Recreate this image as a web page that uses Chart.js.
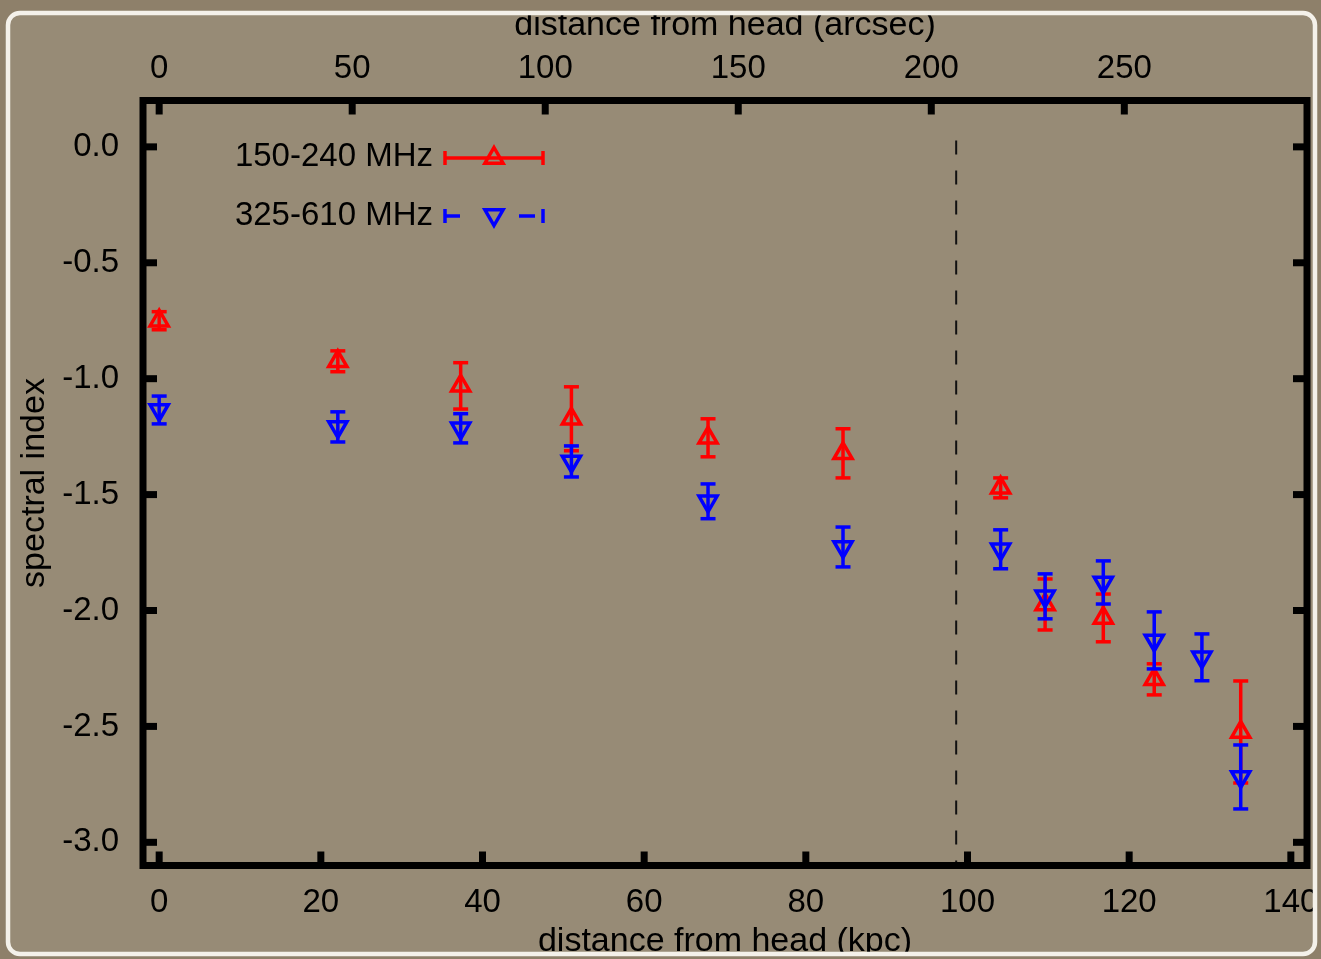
<!DOCTYPE html>
<html>
<head>
<meta charset="utf-8">
<title>spectral index</title>
<script src="https://cdn.jsdelivr.net/npm/chart.js@4.4.1/dist/chart.umd.min.js"></script>
<style>
  html, body { margin: 0; padding: 0; background: #8f826c; }
</style>
</head>
<body>
<canvas id="myChart" width="1321" height="959"></canvas>
<script>
// values
const seriesNames = ['150-240 MHz', '325-610 MHz'];

const dist150 = [0, 22.1, 37.3, 51.0, 67.9, 84.6, 104.1, 109.6, 116.8, 123.1, 133.8];
const index150 = [-0.75, -0.925, -1.031, -1.173, -1.255, -1.322, -1.471, -1.974, -2.032, -2.297, -2.524];
const err150 = [0.039, 0.045, 0.10, 0.138, 0.082, 0.106, 0.043, 0.11, 0.103, 0.067, 0.22];

const dist325 = [0, 22.1, 37.3, 51.0, 67.9, 84.6, 104.1, 109.6, 116.8, 123.1, 129.0, 133.8];
const index325 = [-1.135, -1.208, -1.214, -1.357, -1.529, -1.726, -1.736, -1.939, -1.879, -2.129, -2.202, -2.718];
const err325 = [0.06, 0.065, 0.063, 0.067, 0.075, 0.086, 0.084, 0.097, 0.093, 0.123, 0.101, 0.138];

const kpcTicks = [0, 20, 40, 60, 80, 100, 120, 140];
const arcsecTicks = [0, 50, 100, 150, 200, 250];
const indexTicks = [0.0, -0.5, -1.0, -1.5, -2.0, -2.5, -3.0];

const kpcPerArcsec = 0.4776;
const boundaryKpc = 98.6;
const kpcMin = -2, kpcMax = 142;

const paperColor = '#978b76';
const outerColor = '#8e806a';
const fontFamily = '"Liberation Sans", Arial, Helvetica, sans-serif';

Chart.defaults.font.family = fontFamily;
Chart.defaults.color = '#000';

function line(ctx, x1, y1, x2, y2) {
    ctx.beginPath();
    ctx.moveTo(x1, y1);
    ctx.lineTo(x2, y2);
    ctx.stroke();
}

function triangle(ctx, x, y, r, down) {
    let s = down ? -1 : 1;
    ctx.beginPath();
    ctx.moveTo(x, y - s * r);
    ctx.lineTo(x + r * 0.866, y + s * r / 2);
    ctx.lineTo(x - r * 0.866, y + s * r / 2);
    ctx.closePath();
    ctx.stroke();
}

// paper background + dashed boundary line
const paperPlugin = {
    id: 'paper',
    beforeDraw(chart) {
        let ctx = chart.ctx;
        ctx.save();
        ctx.fillStyle = paperColor;
        ctx.fillRect(0, 0, chart.width, chart.height);
        ctx.restore();
    },
    beforeDatasetsDraw(chart) {
        let ctx = chart.ctx;
        let area = chart.chartArea;
        let px = chart.scales.x.getPixelForValue(boundaryKpc);
        ctx.save();
        ctx.strokeStyle = '#111';
        ctx.lineWidth = 2;
        ctx.setLineDash([14, 16]);
        line(ctx, px, area.top + 40, px, area.bottom);
        ctx.restore();
    }
};

// error bars, drawn before the markers of each dataset
const errorBarPlugin = {
    id: 'errorBars',
    beforeDatasetDraw(chart, args) {
        let ds = chart.data.datasets[args.index];
        let errs = ds.errors;
        let xs = chart.scales.x;
        let ys = chart.scales.y;
        let ctx = chart.ctx;
        ctx.save();
        ctx.strokeStyle = ds.pointBorderColor;
        ctx.lineWidth = 3.5;
        ds.data.forEach((p, i) => {
            let px = xs.getPixelForValue(p.x);
            let yTop = ys.getPixelForValue(p.y + errs[i]);
            let yBot = ys.getPixelForValue(p.y - errs[i]);
            line(ctx, px, yTop, px, yBot);
            line(ctx, px - 7.5, yTop, px + 7.5, yTop);
            line(ctx, px - 7.5, yBot, px + 7.5, yBot);
        });
        ctx.restore();
    }
};

// frame with inward ticks, legend and torn paper edge
const framePlugin = {
    id: 'frame',
    afterDraw(chart) {
        let ctx = chart.ctx;
        let a = chart.chartArea;
        ctx.save();
        ctx.strokeStyle = '#000';
        ctx.lineWidth = 7;
        ctx.lineJoin = 'miter';
        ctx.strokeRect(a.left, a.top, a.right - a.left, a.bottom - a.top);

        chart.scales.x.ticks.forEach(t => {
            let px = chart.scales.x.getPixelForValue(t.value);
            line(ctx, px, a.bottom, px, a.bottom - 14);
        });
        chart.scales.x2.ticks.forEach(t => {
            let px = chart.scales.x2.getPixelForValue(t.value);
            line(ctx, px, a.top, px, a.top + 14);
        });
        chart.scales.y.ticks.forEach(t => {
            let py = chart.scales.y.getPixelForValue(t.value);
            line(ctx, a.left, py, a.left + 14, py);
            line(ctx, a.right, py, a.right - 14, py);
        });

        // legend
        ctx.font = '33px ' + fontFamily;
        ctx.textAlign = 'right';
        ctx.textBaseline = 'middle';
        ctx.fillStyle = '#000';
        ctx.fillText(seriesNames[0], 433, 157);
        ctx.fillText(seriesNames[1], 433, 216);

        ctx.lineWidth = 3.5;
        ctx.strokeStyle = '#ff0000';
        line(ctx, 445, 158, 543, 158);
        line(ctx, 445, 151, 445, 165);
        line(ctx, 543, 151, 543, 165);
        triangle(ctx, 494, 158, 10.5, false);

        ctx.strokeStyle = '#0000ff';
        line(ctx, 445, 216, 460, 216);
        line(ctx, 519, 216, 535, 216);
        line(ctx, 445, 209, 445, 223);
        line(ctx, 543, 209, 543, 223);
        triangle(ctx, 494, 215, 10.5, true);

        // torn edge of the paper
        let L = 8, T = 13, R = 1315, B = 954, rad = 12;
        ctx.beginPath();
        ctx.moveTo(L + rad, T);
        ctx.arcTo(R, T, R, B, rad);
        ctx.arcTo(R, B, L, B, rad);
        ctx.arcTo(L, B, L, T, rad);
        ctx.arcTo(L, T, R, T, rad);
        ctx.closePath();
        ctx.rect(chart.width, 0, -chart.width, chart.height);
        ctx.fillStyle = outerColor;
        ctx.fill('evenodd');

        ctx.beginPath();
        ctx.moveTo(L + rad, T);
        ctx.arcTo(R, T, R, B, rad);
        ctx.arcTo(R, B, L, B, rad);
        ctx.arcTo(L, B, L, T, rad);
        ctx.arcTo(L, T, R, T, rad);
        ctx.closePath();
        ctx.strokeStyle = '#f4f1ea';
        ctx.lineWidth = 4.5;
        ctx.stroke();
        ctx.restore();
    }
};

function toPoints(xs, ys) {
    return xs.map((v, i) => ({ x: v, y: ys[i] }));
}

let ctx = document.getElementById('myChart').getContext('2d');

let miGrafico = new Chart(ctx, {
    type: 'scatter',
    data: {
        datasets: [{
            label: seriesNames[0],
            data: toPoints(dist150, index150),
            errors: err150,
            pointStyle: 'triangle',
            pointRadius: 10.5,
            pointHoverRadius: 10.5,
            pointBorderWidth: 3.5,
            pointBorderColor: '#ff0000',
            pointBackgroundColor: 'rgba(0,0,0,0)',
            showLine: false,
            order: 2
        }, {
            label: seriesNames[1],
            data: toPoints(dist325, index325),
            errors: err325,
            pointStyle: 'triangle',
            pointRotation: 180,
            pointRadius: 10.5,
            pointHoverRadius: 10.5,
            pointBorderWidth: 3.5,
            pointBorderColor: '#0000ff',
            pointBackgroundColor: 'rgba(0,0,0,0)',
            showLine: false,
            order: 1
        }]
    },
    options: {
        responsive: false,
        animation: false,
        layout: { padding: { left: 0, right: 12, top: 0, bottom: 0 } },
        plugins: {
            legend: { display: false },
            tooltip: { enabled: false }
        },
        scales: {
            x: {
                type: 'linear',
                position: 'bottom',
                min: kpcMin,
                max: kpcMax,
                grid: { display: false, drawTicks: false },
                border: { display: false },
                afterBuildTicks: s => { s.ticks = kpcTicks.map(v => ({ value: v })); },
                afterFit: s => { s.height = 93.5; s.paddingLeft = 0; s.paddingRight = 0; },
                ticks: { font: { size: 33, lineHeight: 1 }, padding: 21, maxRotation: 0, callback: v => v },
                title: {
                    display: true,
                    text: 'distance from head (kpc)',
                    font: { size: 34, lineHeight: 1 },
                    padding: { top: 0, bottom: 0 }
                }
            },
            x2: {
                type: 'linear',
                position: 'top',
                min: kpcMin / kpcPerArcsec,
                max: kpcMax / kpcPerArcsec,
                grid: { display: false, drawTicks: false },
                border: { display: false },
                afterBuildTicks: s => { s.ticks = arcsecTicks.map(v => ({ value: v })); },
                afterFit: s => { s.height = 100.5; s.paddingLeft = 0; s.paddingRight = 0; },
                ticks: { font: { size: 33, lineHeight: 1 }, padding: 15.5, maxRotation: 0, callback: v => v },
                title: {
                    display: true,
                    text: 'distance from head (arcsec)',
                    font: { size: 34, lineHeight: 1 },
                    padding: { top: 8.5, bottom: 0 }
                }
            },
            y: {
                type: 'linear',
                position: 'left',
                min: -3.1,
                max: 0.2,
                grid: { display: false, drawTicks: false },
                border: { display: false },
                afterBuildTicks: s => { s.ticks = indexTicks.map(v => ({ value: v })); },
                afterFit: s => { s.width = 143; s.paddingTop = 0; s.paddingBottom = 0; },
                ticks: { font: { size: 33, lineHeight: 1 }, padding: 24, callback: v => v.toFixed(1) },
                title: {
                    display: true,
                    text: 'spectral index',
                    font: { size: 34, lineHeight: 1 },
                    padding: { top: 18, bottom: 0 }
                }
            }
        }
    },
    plugins: [paperPlugin, errorBarPlugin, framePlugin]
});
</script>
</body>
</html>
